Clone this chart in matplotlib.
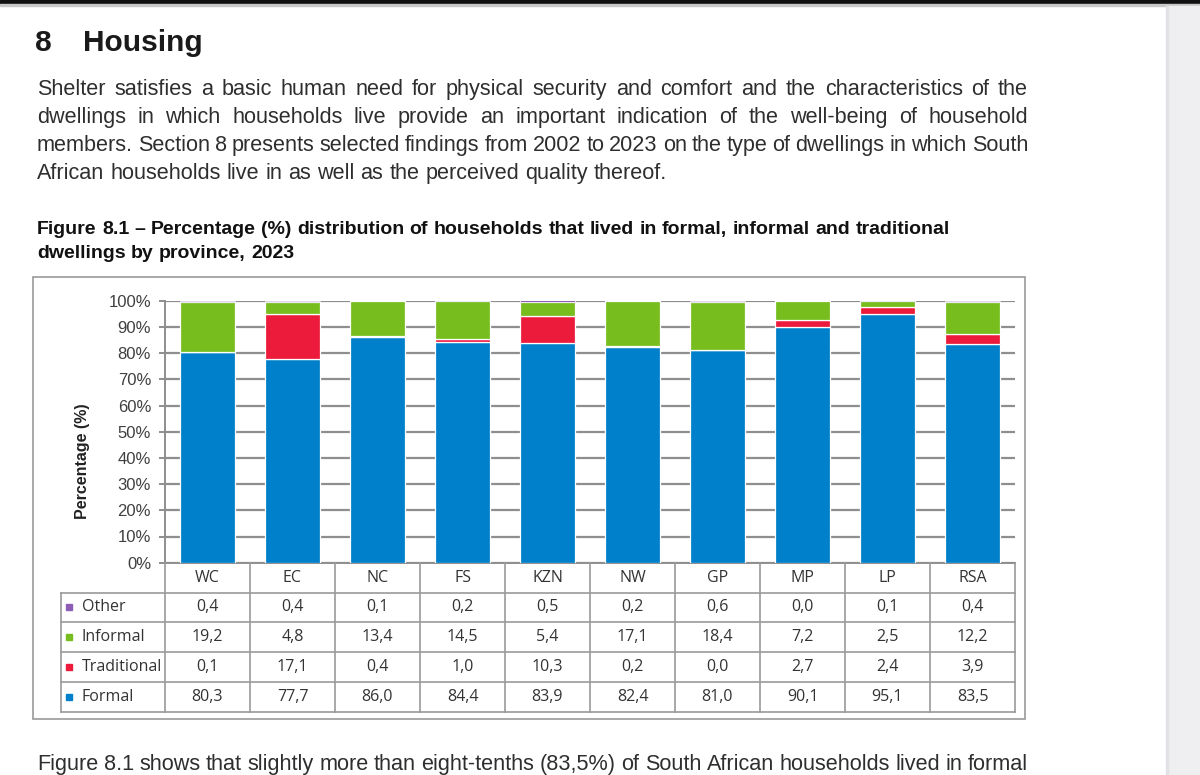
import math
import matplotlib
matplotlib.use("Agg")
import matplotlib.pyplot as plt
from matplotlib.patches import Rectangle

# ---------------- data ----------------
provinces = ["WC", "EC", "NC", "FS", "KZN", "NW", "GP", "MP", "LP", "RSA"]
formal = [80.3, 77.7, 86.0, 84.4, 83.9, 82.4, 81.0, 90.1, 95.1, 83.5]
traditional = [0.1, 17.1, 0.4, 1.0, 10.3, 0.2, 0.0, 2.7, 2.4, 3.9]
informal = [19.2, 4.8, 13.4, 14.5, 5.4, 17.1, 18.4, 7.2, 2.5, 12.2]
other = [0.4, 0.4, 0.1, 0.2, 0.5, 0.2, 0.6, 0.0, 0.1, 0.4]
series_names = ["Other", "Informal", "Traditional", "Formal"]
yticks = [0, 10, 20, 30, 40, 50, 60, 70, 80, 90, 100]
ytick_labels = ["0%", "10%", "20%", "30%", "40%", "50%", "60%", "70%", "80%", "90%", "100%"]

heading_num = "8"
heading = "Housing"
paragraph = [
    "Shelter satisfies a basic human need for physical security and comfort and the characteristics of the",
    "dwellings in which households live provide an important indication of the well-being of household",
    "members. Section 8 presents selected findings from 2002 to 2023 on the type of dwellings in which South",
    "African households live in as well as the perceived quality thereof.",
]
caption = [
    "Figure 8.1 \u2013 Percentage (%) distribution of households that lived in formal, informal and traditional",
    "dwellings by province, 2023",
]
footer = "Figure 8.1 shows that slightly more than eight-tenths (83,5%) of South African households lived in formal"

# ---------------- style ----------------
BLUE = "#0080CA"
RED = "#EC1B3B"
GREEN = "#76BD1D"
PURPLE = "#8E5DB5"
GRID = "#8E8E8E"
TXT = "#333333"
DOC = "Liberation Sans"
TAB = "Open Sans"

W, H = 1200, 775
fig = plt.figure(figsize=(W / 100, H / 100), dpi=100)
fig.patch.set_facecolor("white")


def fx(x):
    return x / W


def fy(y):
    return 1 - y / H


# page decorations
fig.add_artist(Rectangle((0, fy(4.5)), 1, 4.5 / H, transform=fig.transFigure,
                         color="#111111", zorder=0))
fig.add_artist(Rectangle((0, fy(6)), 1, 1.5 / H, transform=fig.transFigure,
                         color="#c8c8c8", zorder=0))
fig.add_artist(Rectangle((fx(1167), 0), 33 / W, fy(6), transform=fig.transFigure,
                         color="#efeff2", zorder=0))
fig.add_artist(Rectangle((fx(1166), 0), 2 / W, fy(6), transform=fig.transFigure,
                         color="#e2e2e6", zorder=0))
# chart outer box
fig.add_artist(Rectangle((fx(33), fy(719)), (1025 - 33) / W, (719 - 277) / H,
                         transform=fig.transFigure, fill=False, ec="#9a9a9a", lw=1.2))

renderer = fig.canvas.get_renderer()


def baseline_err(t, word):
    """Pixel offset Agg introduces for this word's baseline (to keep words aligned)."""
    try:
        from matplotlib.backends.backend_agg import get_hinting_flag
        font = renderer._prepare_font(t.get_fontproperties())
        font.set_text(word, 0, flags=get_hinting_flag())
        _, h26 = font.get_width_height()
        d26 = font.get_descent()
        ymax = h26 - d26
        err = round(d26 / 64) - (h26 // 64) + math.floor(ymax / 64)
        return err if abs(err) <= 2 else 0
    except Exception:
        return 0


def place_line(line, y, size, justify=True, x0=37, x1=1028, **kw):
    words = line.split()
    texts, widths = [], []
    for w in words:
        t = fig.text(0, 0, w, fontsize=size, family=DOC, va="baseline", ha="left", **kw)
        widths.append(t.get_window_extent(renderer).width)
        texts.append(t)
    if justify and len(words) > 1:
        gap = (x1 - x0 - sum(widths)) / (len(words) - 1)
    else:
        gap = size * 0.278 * 100 / 72
    x = x0
    for t, w, word in zip(texts, widths, words):
        e = baseline_err(t, word)
        t.set_position((fx(x), fy(y - e)))
        x += w + gap


# heading
fig.text(fx(35.5), fy(51), heading_num, fontsize=21.5, fontweight="bold", family=DOC,
         color="#1a1a1a", va="baseline")
fig.text(fx(83), fy(51), heading, fontsize=21.5, fontweight="bold", family=DOC,
         color="#1a1a1a", va="baseline")

for i, line in enumerate(paragraph):
    place_line(line, 95 + 28 * i, 15.6, justify=(i < len(paragraph) - 1), color="#2e2e2e")

for i, line in enumerate(caption):
    place_line(line, 234 + 24 * i, 14.0, justify=False, color="#111111", fontweight="bold")

place_line(footer, 770, 15.6, justify=True, color="#2e2e2e")

# ---------------- chart ----------------
ax = fig.add_axes([fx(165), fy(562.7), (1015 - 165) / W, (562.7 - 300.7) / H])
x = list(range(len(provinces)))
b1 = formal
b2 = [a + b for a, b in zip(b1, traditional)]
b3 = [a + b for a, b in zip(b2, informal)]
bw = 0.65
ax.bar(x, formal, width=bw, color=BLUE, edgecolor="white", linewidth=0.9, zorder=3)
ax.bar(x, traditional, bottom=b1, width=bw, color=RED, edgecolor="white", linewidth=0.9, zorder=3)
ax.bar(x, informal, bottom=b2, width=bw, color=GREEN, edgecolor="white", linewidth=0.9, zorder=3)
ax.bar(x, other, bottom=b3, width=bw, color=PURPLE, edgecolor="white", linewidth=0.5, zorder=3)
ax.set_xlim(-0.5, len(provinces) - 0.5)
ax.set_ylim(0, 100)
ax.set_yticks(yticks)
ax.set_yticklabels(ytick_labels, fontsize=12, family=DOC, color="#404040")
ax.set_xticks([])
ax.yaxis.grid(True, color=GRID, lw=1.6, zorder=0)
ax.set_axisbelow(True)
ax.tick_params(axis="y", length=4, width=1.4, color=GRID, pad=6)
for s in ["top", "right"]:
    ax.spines[s].set_visible(False)
for s in ["left", "bottom"]:
    ax.spines[s].set_color(GRID)
    ax.spines[s].set_linewidth(1.4)
ax.patch.set_alpha(0)

fig.text(fx(83), fy(461), "Percentage (%)", rotation=90, fontsize=11.5, fontweight="bold",
         family=DOC, color="#222222", ha="center", va="center")

# ---------------- data table ----------------
lead = 104.3 / 85.0
tab = fig.add_axes([fx(60.7), fy(712), (1015 - 60.7) / W, (712 - 562.7) / H])
tab.set_xlim(-0.5 - lead, len(provinces) - 0.5)
tab.set_ylim(5, 0)
tab.axis("off")
LC = "#9a9a9a"
left = -0.5 - lead
right = len(provinces) - 0.5
for r in range(1, 6):
    tab.plot([left, right], [r, r], color=LC, lw=1.2, clip_on=False)
for c in range(len(provinces) + 1):
    tab.plot([c - 0.5, c - 0.5], [0, 5], color=LC, lw=1.2, clip_on=False)
tab.plot([left, left], [1, 5], color=LC, lw=1.2, clip_on=False)

for i, p in enumerate(provinces):
    tab.text(i, 0.5, p, ha="center", va="center", fontsize=11.5, family=TAB, color=TXT)

rows = [other, informal, traditional, formal]
colors = [PURPLE, GREEN, RED, BLUE]
for r, (name, vals, col) in enumerate(zip(series_names, rows, colors)):
    yy = r + 1.5
    tab.plot([left + 0.1], [yy], marker="s", ms=4.5, color=col, ls="none", clip_on=False)
    tab.text(left + 0.25, yy, name, ha="left", va="center", fontsize=11.5, family=TAB, color=TXT)
    for i, v in enumerate(vals):
        tab.text(i, yy, f"{v:.1f}".replace(".", ","), ha="center", va="center",
                 fontsize=11.5, family=TAB, color=TXT)

fig.savefig("out.png", dpi=100, facecolor="white")
